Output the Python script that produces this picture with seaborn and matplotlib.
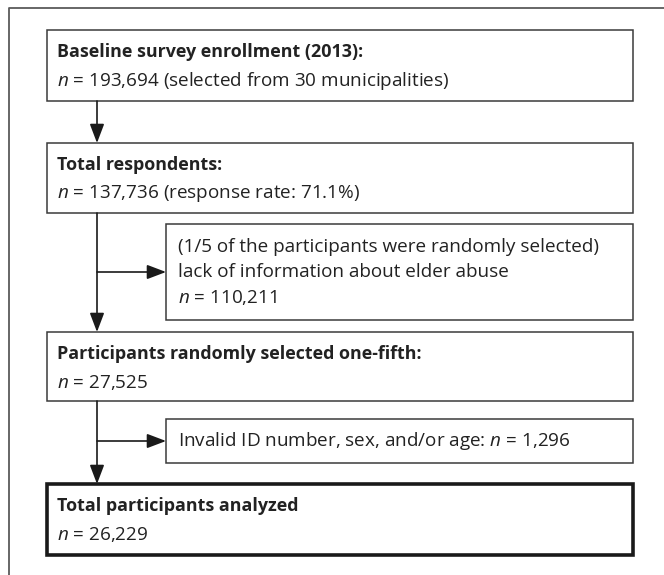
import matplotlib
matplotlib.use("Agg")
import matplotlib.pyplot as plt
import matplotlib.patches as mpatches
import seaborn as sns

sns.set_style("white")
plt.rcParams['font.family'] = ['Open Sans', 'DejaVu Sans']
plt.rcParams['mathtext.fontset'] = 'custom'
plt.rcParams['mathtext.rm'] = 'Open Sans'
plt.rcParams['mathtext.it'] = 'Open Sans:italic'
plt.rcParams['mathtext.bf'] = 'Open Sans:bold'

# main boxes: title, count line
main_titles = ['Baseline survey enrollment (2013):',
               'Total respondents:',
               'Participants randomly selected one-fifth:',
               'Total participants analyzed']
main_counts = ['193,694 (selected from 30 municipalities)',
               '137,736 (response rate: 71.1%)',
               '27,525',
               '26,229']
# exclusion boxes
excl_lines = [['(1/5 of the participants were randomly selected)',
               'lack of information about elder abuse',
               '$n$ = 110,211'],
              ['Invalid ID number, sex, and/or age: $n$ = 1,296']]

# layout in pixels
main_y = [(30, 101), (143, 213), (332, 401), (484, 555)]
excl_y = [(224, 320), (419, 463)]
x0, x1, xs, xv = 47, 633, 166, 97
fs_b, fs_r = 12.9, 13.6
col = '#3a3a3a'
txt = '#222222'

fig = plt.figure(figsize=(6.64, 5.75), dpi=100)
ax = fig.add_axes([0, 0, 1, 1])
ax.set_xlim(0, 664)
ax.set_ylim(575, 0)
ax.axis('off')

# outer frame (top and left visible)
ax.plot([9, 9, 664], [575, 7.5, 7.5], color='#5a5a5a', lw=1.3)

for i, (t, c) in enumerate(zip(main_titles, main_counts)):
    ya, yb = main_y[i]
    last = i == len(main_titles) - 1
    ax.add_patch(mpatches.Rectangle((x0, ya), x1 - x0, yb - ya, fill=False,
                                    ec='#1a1a1a' if last else col,
                                    lw=2.6 if last else 1.1, joinstyle='miter'))
    ax.text(x0 + 10, ya + 22, t, fontsize=fs_b, fontweight='bold', color=txt,
            va='center', ha='left')
    ax.text(x0 + 10, ya + 51, '$n$ = ' + c, fontsize=fs_r, color=txt,
            va='center', ha='left')

for j, lines in enumerate(excl_lines):
    ya, yb = excl_y[j]
    ax.add_patch(mpatches.Rectangle((xs, ya), x1 - xs, yb - ya, fill=False,
                                    ec=col, lw=1.1))
    n = len(lines)
    mid = (ya + yb) / 2
    for k, ln in enumerate(lines):
        ax.text(xs + 12, mid + (k - (n - 1) / 2) * 25.5, ln, fontsize=fs_r,
                color=txt, va='center', ha='left')

# vertical arrows between main boxes
arrow = dict(arrowstyle='-|>,head_length=0.58,head_width=0.22', color='#1a1a1a',
             lw=1.2, mutation_scale=20, shrinkA=0, shrinkB=0)
for i in range(len(main_y) - 1):
    ax.annotate('', xy=(xv, main_y[i + 1][0]), xytext=(xv, main_y[i][1]),
                arrowprops=arrow)
# side arrows to exclusion boxes
for ya, yb in excl_y:
    ym = (ya + yb) / 2
    ax.annotate('', xy=(xs, ym), xytext=(xv, ym), arrowprops=arrow)

fig.savefig('out.png', dpi=100, facecolor='white')
